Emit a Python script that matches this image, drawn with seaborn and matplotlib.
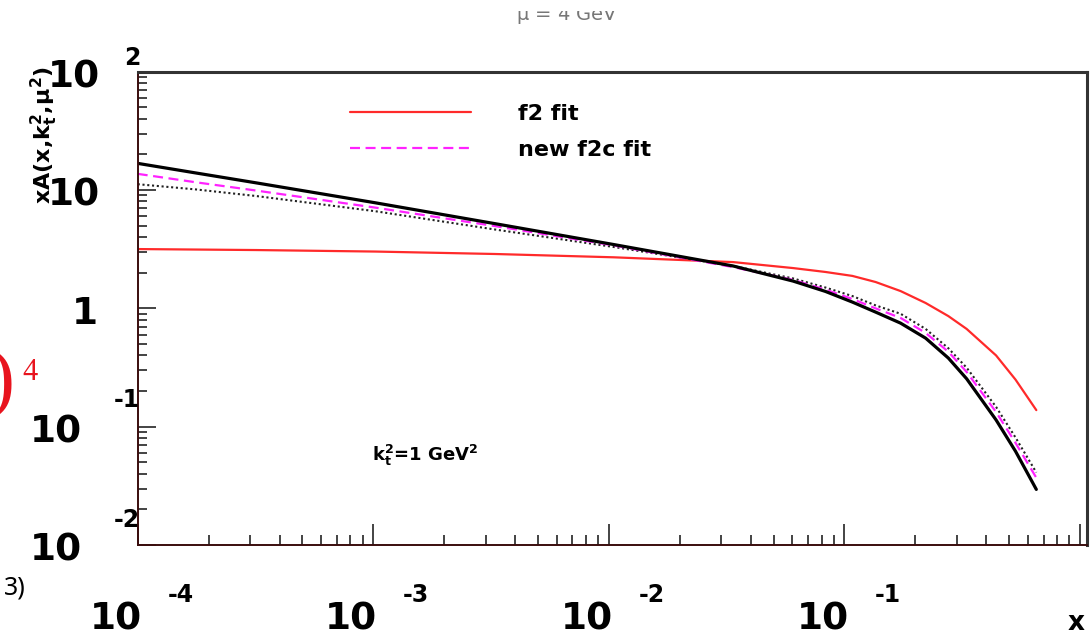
import matplotlib
matplotlib.use("Agg")
import matplotlib.pyplot as plt
from matplotlib.patches import Rectangle
import numpy as np
import pandas as pd
import seaborn as sns
from matplotlib.ticker import LogLocator, NullFormatter

# ---------------- data ----------------
x_vals = [1.0e-4, 1.78e-4, 3.18e-4, 1.02e-3, 3.28e-3, 1.05e-2, 3.37e-2, 6.05e-2,
          8.3e-2, 0.108, 0.1355, 0.173, 0.221, 0.276, 0.33, 0.44, 0.532, 0.652]
f2_fit = [3.17, 3.14, 3.11, 3.02, 2.88, 2.70, 2.46, 2.19, 2.03, 1.88, 1.67,
          1.40, 1.11, 0.86, 0.67, 0.40, 0.25, 0.138]
new_f2c_fit = [13.7, 11.6, 9.9, 7.1, 4.96, 3.40, 2.23, 1.74, 1.44, 1.20, 1.00,
               0.83, 0.62, 0.43, 0.29, 0.133, 0.073, 0.037]
dotted_fit = [11.2, 10.1, 8.9, 6.62, 4.64, 3.30, 2.28, 1.79, 1.50, 1.27, 1.06,
              0.90, 0.67, 0.46, 0.315, 0.147, 0.081, 0.041]
solid_fit = [16.8, 13.9, 11.5, 7.8, 5.2, 3.46, 2.28, 1.70, 1.39, 1.13, 0.93,
             0.75, 0.56, 0.38, 0.254, 0.114, 0.062, 0.0295]

series_names = ["f2 fit", "new f2c fit", "dotted", "solid"]
x_ticks = [1e-4, 1e-3, 1e-2, 1e-1]
x_exponents = ["-4", "-3", "-2", "-1"]
y_ticks = [100, 10, 1, 0.1, 0.01]
y_bases = ["10", "10", "1", "10", "10"]
y_exponents = ["2", "", "", "-1", "-2"]

df = pd.DataFrame({
    "x": x_vals * 4,
    "y": f2_fit + new_f2c_fit + dotted_fit + solid_fit,
    "series": sum([[n] * len(x_vals) for n in series_names], []),
})

# ---------------- style ----------------
sns.set_theme(style="white")
plt.rcParams["font.family"] = ["DejaVu Sans"]
plt.rcParams["mathtext.default"] = "regular"
plt.rcParams["text.color"] = "black"

W, H = 1092, 632
fig = plt.figure(figsize=(W / 100, H / 100), dpi=100)
L, R, T, B = 137.7, 1087.0, 71.7, 545.0
ax = fig.add_axes([L / W, 1 - B / H, (R - L) / W, (B - T) / H])

styles = {
    "f2 fit": dict(color="#ff2a2a", lw=1.6, ls="-"),
    "dotted": dict(color="#222222", lw=1.5, ls=(0, (1, 1.3))),
    "new f2c fit": dict(color="#ff22ff", lw=1.6, ls=(0, (4.5, 2.5))),
    "solid": dict(color="black", lw=2.3, ls="-"),
}
for name in ["f2 fit", "dotted", "new f2c fit", "solid"]:
    sub = df[df["series"] == name]
    st = styles[name]
    lab = name if name in ("f2 fit", "new f2c fit") else "_nolegend_"
    sns.lineplot(data=sub, x="x", y="y", ax=ax, color=st["color"],
                 linewidth=st["lw"], linestyle=st["ls"], label=lab,
                 estimator=None, sort=False)

ax.set_xscale("log")
ax.set_yscale("log")
ax.set_xlim(1e-4, 1.07)
ax.set_ylim(0.01, 100)
ax.set_xlabel("")
ax.set_ylabel("")

# ticks
ax.xaxis.set_major_locator(LogLocator(base=10, numticks=10))
ax.xaxis.set_minor_locator(LogLocator(base=10, subs=np.arange(2, 10), numticks=20))
ax.yaxis.set_major_locator(LogLocator(base=10, numticks=10))
ax.yaxis.set_minor_locator(LogLocator(base=10, subs=np.arange(2, 10), numticks=20))
for axis in (ax.xaxis, ax.yaxis):
    axis.set_major_formatter(NullFormatter())
    axis.set_minor_formatter(NullFormatter())
ax.tick_params(axis="x", which="major", direction="in", length=15, width=1.1,
               color="#111111", top=False, bottom=True)
ax.tick_params(axis="x", which="minor", direction="in", length=7, width=1.1,
               color="#111111", top=False, bottom=True)
ax.tick_params(axis="y", which="major", direction="in", length=13, width=1.1,
               color="#111111", left=True, right=False)
ax.tick_params(axis="y", which="minor", direction="in", length=6.5, width=1.1,
               color="#111111", left=True, right=False)

for s in ("left", "bottom"):
    ax.spines[s].set_color("#3a0d0d")
    ax.spines[s].set_linewidth(1.4)
for s in ("top", "right"):
    ax.spines[s].set_color("#333333")
    ax.spines[s].set_linewidth(2.2)

# tick labels (ROOT style: "10" plus raised exponent)
px = 0.72  # pixels -> points
bold = dict(fontweight="bold", color="black")
for t, e in zip(x_ticks, x_exponents):
    ax.annotate("10", xy=(t, 0), xycoords=("data", "axes fraction"),
                xytext=(-22 * px, -85 * px), textcoords="offset points",
                ha="center", va="baseline", fontsize=27, **bold,
                annotation_clip=False)
    ax.annotate(e, xy=(t, 0), xycoords=("data", "axes fraction"),
                xytext=(43 * px, -57 * px), textcoords="offset points",
                ha="center", va="baseline", fontsize=17, **bold,
                annotation_clip=False)

base_right = [100, 100, 98, 82, 82]
exp_raise = [7, 0, 0, 20, 18]
for t, b, e, br, er in zip(y_ticks, y_bases, y_exponents, base_right, exp_raise):
    ax.annotate(b, xy=(0, t), xycoords=("axes fraction", "data"),
                xytext=((br - L) * px, -15.5 * px), textcoords="offset points",
                ha="right", va="baseline", fontsize=27, **bold,
                annotation_clip=False)
    if e:
        ax.annotate(e, xy=(0, t), xycoords=("axes fraction", "data"),
                    xytext=((140 - L) * px, er * px), textcoords="offset points",
                    ha="right", va="baseline", fontsize=17, **bold,
                    annotation_clip=False)

# axis titles
fig.text(44 / W, 1 - 135 / H, r"xA(x,k$_{t}^{2}$,$\mu^{2}$)", rotation=90,
         ha="center", va="center", fontsize=16, fontweight="bold", color="black")
ax.annotate("x", xy=(1, 0), xycoords="axes fraction",
            xytext=(-2 * px, -85 * px), textcoords="offset points",
            ha="right", va="baseline", fontsize=19, **bold,
            annotation_clip=False)

# in-plot annotation
ax.text((372 - L) / (R - L), (B - 455) / (B - T), r"k$_{t}^{2}$=1 GeV$^{2}$",
        transform=ax.transAxes, ha="left", va="center", fontsize=13,
        fontweight="bold", color="black")

# legend
leg = ax.legend(loc="upper left", bbox_to_anchor=((350 - L) / (R - L), (B - 104) / (B - T)),
                frameon=False, fontsize=16, handlelength=5.45, handletextpad=2.1,
                labelspacing=0.72, borderpad=0, borderaxespad=0)
for txt in leg.get_texts():
    txt.set_fontweight("bold")
    txt.set_color("black")

# slide remnants around the plot
fig.text(567 / W, 1 - 20 / H, r"$\mu$ = 4 GeV", ha="center", va="baseline",
         fontsize=14, color="#777777", zorder=1)
fig.patches.append(Rectangle((480 / W, 1 - 11 / H), 180 / W, 11 / H,
                             transform=fig.transFigure, facecolor="white",
                             edgecolor="none", zorder=5))
fig.text(14 / W, 1 - 385 / H, ")", ha="right", va="center", fontsize=56,
         color="#e8141e", family="Liberation Serif")
fig.text(30 / W, 1 - 372 / H, "4", ha="center", va="center", fontsize=22,
         color="#e8141e", family="Liberation Serif")
fig.text(26 / W, 1 - 588 / H, "3)", ha="right", va="center", fontsize=18,
         color="black", family="Noto Sans")

fig.savefig("out.png", dpi=100)
